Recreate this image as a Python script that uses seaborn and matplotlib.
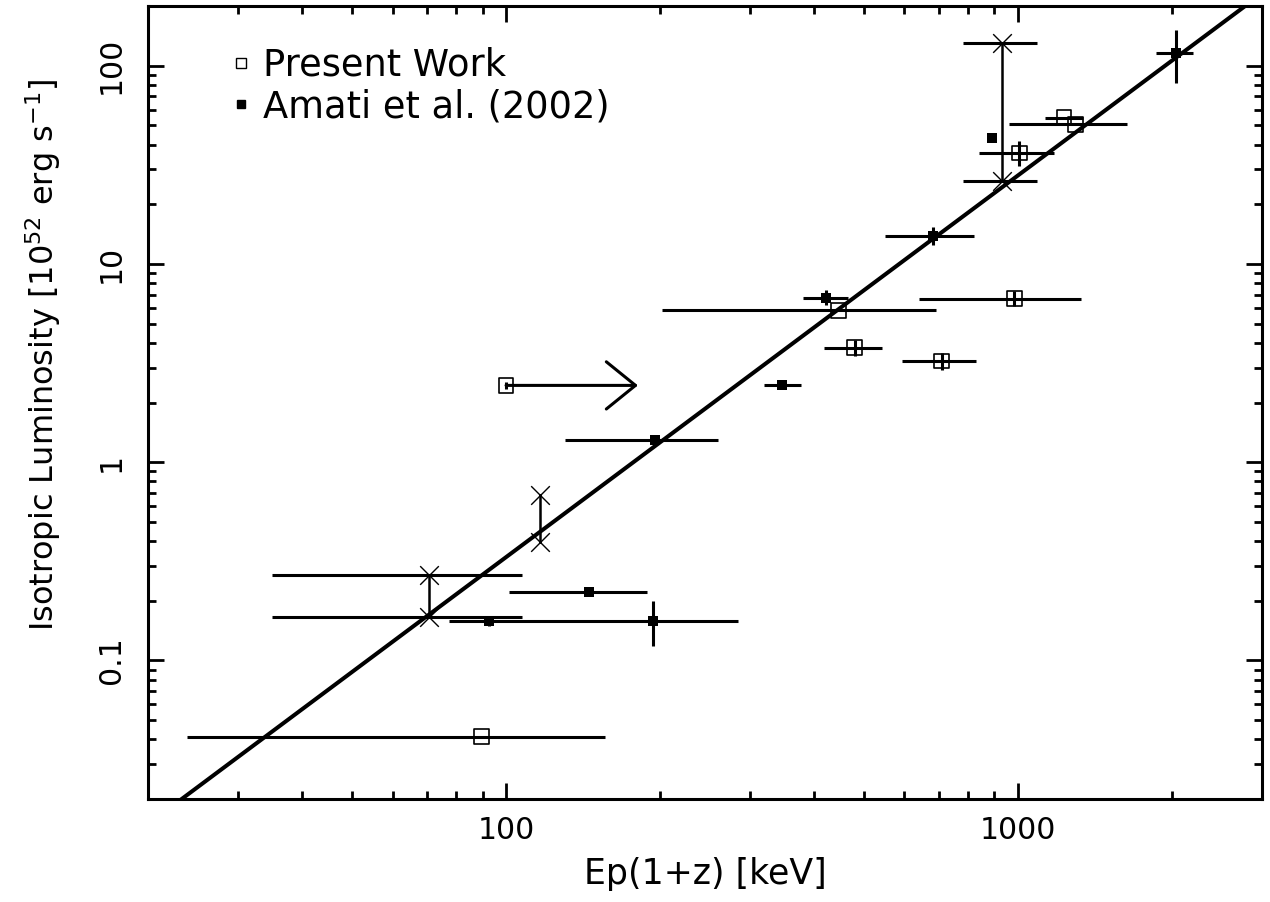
import numpy as np
import pandas as pd
import matplotlib
matplotlib.use("Agg")
import matplotlib.pyplot as plt
import seaborn as sns
from matplotlib.lines import Line2D
from matplotlib.ticker import LogLocator, FuncFormatter, NullFormatter

# ---------------- data ----------------
# Present work: open squares
pw_ep     = [89.6, 446, 480, 710, 984, 1006, 1231, 1298]
pw_lum    = [0.0412, 5.84, 3.78, 3.24, 6.69, 36.3, 54.8, 50.7]
pw_ep_lo  = [23.8, 202, 419, 594, 642, 840, 1129, 961]
pw_ep_hi  = [156, 693, 543, 828, 1330, 1177, 1341, 1637]
pw_lum_lo = [0.0412, 5.84, 3.43, 2.92, 6.12, 31.3, 54.8, 50.7]
pw_lum_hi = [0.0412, 5.84, 4.13, 3.54, 7.28, 41.8, 54.8, 50.7]

# Present work: lower limit in Ep (arrow)
lim_ep     = [100]
lim_lum    = [2.44]
lim_ep_to  = [181]
lim_lum_lo = [2.33]
lim_lum_hi = [2.55]

# Amati et al. (2002): filled squares
am_ep     = [92.8, 145, 193.4, 195.4, 346.7, 422.6, 684, 890, 2035]
am_lum    = [0.159, 0.222, 0.159, 1.30, 2.44, 6.75, 13.8, 43.0, 116]
am_ep_lo  = [92.8, 101.5, 77.4, 130.6, 319, 379.6, 551, 890, 1862]
am_ep_hi  = [92.8, 188.6, 283.4, 259.8, 377, 466, 821, 890, 2200]
am_lum_lo = [0.150, 0.222, 0.118, 1.30, 2.44, 6.19, 12.4, 43.0, 82]
am_lum_hi = [0.168, 0.222, 0.200, 1.30, 2.44, 7.37, 15.4, 43.0, 152]

# Luminosity ranges (X markers joined by a vertical line)
rg_ep    = [70.8, 116.7, 933]
rg_lo    = [0.165, 0.398, 26.3]
rg_hi    = [0.269, 0.687, 130.5]
rg_ep_lo = [34.9, 116.7, 783]
rg_ep_hi = [107.3, 116.7, 1089]

# Best-fit power law: log L = slope * log Ep + logk
fit_slope = 1.925
fit_logk = -4.329
fit_ep = [20, 3000]

x_ticks = [100, 1000]
y_ticks = [0.1, 1, 10, 100]
x_lim = (20, 3000)
y_lim = (0.02, 200)

# ---------------- style ----------------
sns.set_style("ticks")
plt.rcParams["font.family"] = ["DejaVu Sans"]
plt.rcParams["mathtext.fontset"] = "dejavusans"
for key in ("text.color", "axes.labelcolor", "xtick.color", "ytick.color", "axes.edgecolor"):
    plt.rcParams[key] = "black"

fig = plt.figure(figsize=(12.7, 9.02), dpi=100)
ax = fig.add_axes([0.1168, 0.1142, 0.9937 - 0.1168, 0.9933 - 0.1142])

# fit line
fit_df = pd.DataFrame({"ep": fit_ep,
                       "lum": [10 ** (fit_slope * np.log10(e) + fit_logk) for e in fit_ep]})
sns.lineplot(data=fit_df, x="ep", y="lum", ax=ax, color="black", lw=2.9, zorder=2)

EW = 2.2  # error bar width

def xyerr(v, lo, hi):
    v, lo, hi = map(np.asarray, (v, lo, hi))
    return np.vstack([v - lo, hi - v])

# present work error bars
ax.errorbar(pw_ep, pw_lum, xerr=xyerr(pw_ep, pw_ep_lo, pw_ep_hi),
            yerr=xyerr(pw_lum, pw_lum_lo, pw_lum_hi),
            fmt="none", ecolor="black", elinewidth=EW, capsize=0, zorder=3)
# lower-limit point
ax.errorbar(lim_ep, lim_lum, yerr=xyerr(lim_lum, lim_lum_lo, lim_lum_hi),
            fmt="none", ecolor="black", elinewidth=EW, capsize=0, zorder=3)
for e0, l0, e1 in zip(lim_ep, lim_lum, lim_ep_to):
    ax.annotate("", xy=(e1, l0), xytext=(e0, l0),
                arrowprops=dict(arrowstyle="->,head_length=1.05,head_width=0.85",
                                lw=EW, color="black", mutation_scale=20,
                                shrinkA=0, shrinkB=0), zorder=3)
# Amati error bars
ax.errorbar(am_ep, am_lum, xerr=xyerr(am_ep, am_ep_lo, am_ep_hi),
            yerr=xyerr(am_lum, am_lum_lo, am_lum_hi),
            fmt="none", ecolor="black", elinewidth=EW, capsize=0, zorder=3)
# ranges
ax.vlines(rg_ep, rg_lo, rg_hi, colors="black", lw=1.8, zorder=3)
for lum_col in (rg_lo, rg_hi):
    ax.errorbar(rg_ep, lum_col, xerr=xyerr(rg_ep, rg_ep_lo, rg_ep_hi),
                fmt="none", ecolor="black", elinewidth=EW, capsize=0, zorder=3)

pw_df = pd.DataFrame({"ep": pw_ep + lim_ep, "lum": pw_lum + lim_lum})
am_df = pd.DataFrame({"ep": am_ep, "lum": am_lum})
rg_df = pd.DataFrame({"ep": rg_ep + rg_ep, "lum": rg_lo + rg_hi})

sns.scatterplot(data=pw_df, x="ep", y="lum", ax=ax, marker="s", s=115,
                facecolor="none", edgecolor="black", linewidth=1.2, zorder=4)
sns.scatterplot(data=am_df, x="ep", y="lum", ax=ax, marker="s", s=55,
                color="black", edgecolor="black", linewidth=0, zorder=4)
sns.scatterplot(data=rg_df, x="ep", y="lum", ax=ax, marker="x", s=180,
                color="black", linewidth=1.0, zorder=4)

# ---------------- axes ----------------
ax.set_xscale("log")
ax.set_yscale("log")
ax.set_xlim(*x_lim)
ax.set_ylim(*y_lim)
ax.set_xticks(x_ticks)
ax.set_yticks(y_ticks)
ax.xaxis.set_minor_locator(LogLocator(base=10, subs=np.arange(2, 10)))
ax.yaxis.set_minor_locator(LogLocator(base=10, subs=np.arange(2, 10)))
fmt = FuncFormatter(lambda v, p: "%g" % v)
ax.xaxis.set_major_formatter(fmt)
ax.yaxis.set_major_formatter(fmt)
ax.xaxis.set_minor_formatter(NullFormatter())
ax.yaxis.set_minor_formatter(NullFormatter())

ax.tick_params(which="both", direction="in", top=True, right=True,
               width=2.0, color="black", labelcolor="black", labelsize=21.5)
ax.tick_params(which="major", length=11.5)
ax.tick_params(axis="x", which="major", pad=12)
ax.tick_params(axis="y", which="major", pad=16)
ax.tick_params(which="minor", length=6)
for lbl in ax.get_yticklabels():
    lbl.set_rotation(90)
    lbl.set_va("center")
for sp in ax.spines.values():
    sp.set_linewidth(2.2)
    sp.set_color("black")

ax.set_xlabel("Ep(1+z) [keV]", fontsize=25, labelpad=9, color="black")
ax.set_ylabel(r"Isotropic Luminosity [10$^{52}$ erg s$^{-1}$]", fontsize=23, color="black")
ax.yaxis.set_label_coords(-0.077, 0.56)

handles = [Line2D([], [], marker="s", ls="none", mfc="none", mec="black", ms=7, mew=1.0),
           Line2D([], [], marker="s", ls="none", color="black", ms=5.5)]
leg = ax.legend(handles, ["Present Work", "Amati et al. (2002)"], loc="upper left",
                bbox_to_anchor=(0.06, 0.967), frameon=False, fontsize=26.5,
                handlelength=0.6, handletextpad=0.3, labelspacing=0.12, borderaxespad=0)
for t in leg.get_texts():
    t.set_color("black")

fig.savefig("out.png", dpi=100)
